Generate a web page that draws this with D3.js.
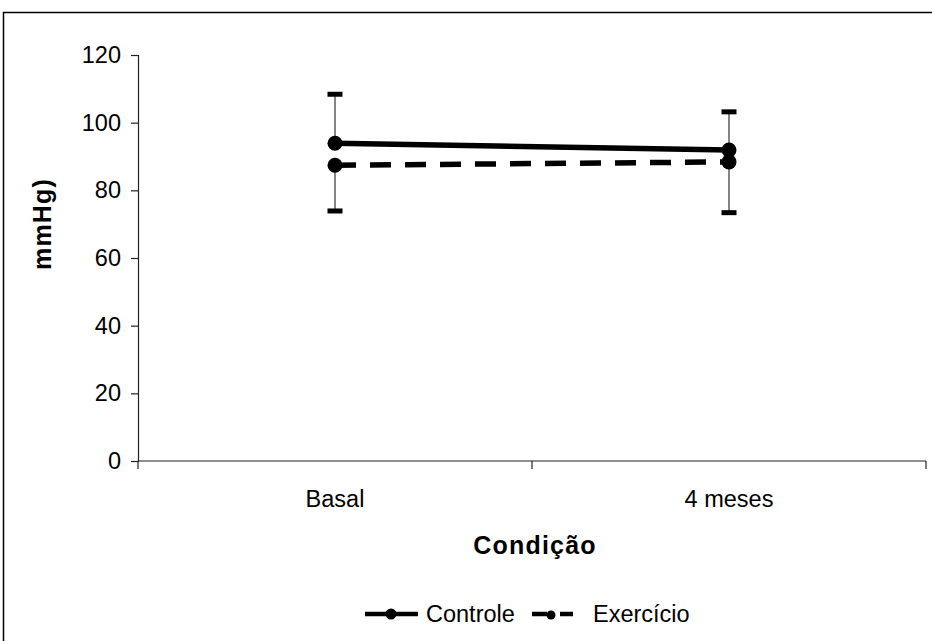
<!DOCTYPE html>
<html>
<head>
<meta charset="utf-8">
<script src="https://cdn.jsdelivr.net/npm/d3@7"></script>
<style>
  html, body { margin: 0; padding: 0; background: #fff; }
  svg { display: block; font-family: "Liberation Sans", Arial, sans-serif; }
</style>
</head>
<body>
<svg id="chart" width="932" height="641"></svg>
<script>
// Pressão arterial (mmHg) por condição
const categories = ["Basal", "4 meses"];
const controle = [93.9, 91.9];
const exercicio = [87.4, 88.4];
// desvios: Controle mostrado para cima, Exercício para baixo
const controleErr = [14.5, 11.3];
const exercicioErr = [13.5, 15.0];
const yTicks = [0, 20, 40, 60, 80, 100, 120];
const seriesNames = ["Controle", "Exercício"];
const xTitle = "Condição";
const yTitle = "mmHg)";

const svg = d3.select("#chart");
const fs = 23.5;

// outer chart frame
svg.append("rect")
  .attr("x", 3.5).attr("y", 12.5)
  .attr("width", 960).attr("height", 660)
  .attr("fill", "none").attr("stroke", "#000").attr("stroke-width", 1.5);

const plot = { left: 138, right: 926, top: 55, bottom: 461 };

const x = d3.scaleBand().domain(categories).range([plot.left, plot.right]);
const y = d3.scaleLinear().domain([0, 120]).range([plot.bottom, plot.top]);
const cx = c => x(c) + x.bandwidth() / 2;

// y axis
const yAxis = svg.append("g")
  .attr("transform", `translate(${plot.left},0)`)
  .call(d3.axisLeft(y).tickValues(yTicks).tickSize(7).tickPadding(10).tickFormat(d3.format("d")));
yAxis.select(".domain").attr("stroke", "#222").attr("stroke-width", 1.2);
yAxis.selectAll(".tick line").attr("stroke", "#222").attr("stroke-width", 1.2);
yAxis.selectAll(".tick text").attr("font-size", fs).attr("fill", "#000")
  .attr("font-family", "Liberation Sans, Arial, sans-serif");

// x axis (ticks between categories, pointing down)
const xAxis = svg.append("g")
  .attr("transform", `translate(0,${plot.bottom})`);
const xBoundaries = [plot.left, ...categories.slice(1).map(c => x(c)), plot.right];
xAxis.append("line")
  .attr("x1", plot.left).attr("x2", plot.right)
  .attr("stroke", "#222").attr("stroke-width", 1.2);
xAxis.selectAll("line.tk").data(xBoundaries).join("line")
  .attr("class", "tk")
  .attr("x1", d => d).attr("x2", d => d)
  .attr("y1", 0).attr("y2", 8)
  .attr("stroke", "#222").attr("stroke-width", 1.2);
xAxis.selectAll("text").data(categories).join("text")
  .attr("x", d => cx(d)).attr("y", 46)
  .attr("text-anchor", "middle").attr("font-size", fs).attr("fill", "#000")
  .text(d => d);

// axis titles
svg.append("text")
  .attr("x", 535).attr("y", 554)
  .attr("text-anchor", "middle").attr("font-size", 25).attr("font-weight", "bold")
  .attr("letter-spacing", 1.2)
  .text(xTitle);
svg.append("text")
  .attr("transform", "translate(51,224) rotate(-90)")
  .attr("text-anchor", "middle").attr("font-size", 25).attr("font-weight", "bold")
  .attr("letter-spacing", 1.2)
  .text(yTitle);

// error bars
const capW = 15;
function errorBars(vals, errs, dir) {
  const g = svg.append("g");
  categories.forEach((c, i) => {
    const y0 = y(vals[i]);
    const y1 = y(vals[i] + dir * errs[i]);
    g.append("line")
      .attr("x1", cx(c)).attr("x2", cx(c))
      .attr("y1", y0).attr("y2", y1)
      .attr("stroke", "#333").attr("stroke-width", 1.2);
    g.append("line")
      .attr("x1", cx(c) - capW / 2).attr("x2", cx(c) + capW / 2)
      .attr("y1", y1).attr("y2", y1)
      .attr("stroke", "#000").attr("stroke-width", 5);
  });
}
errorBars(controle, controleErr, 1);
errorBars(exercicio, exercicioErr, -1);

// series lines and markers
const line = d3.line().x((d, i) => cx(categories[i])).y(d => y(d));
function drawSeries(vals, dash) {
  svg.append("path")
    .datum(vals)
    .attr("d", line)
    .attr("fill", "none").attr("stroke", "#000").attr("stroke-width", 5.5)
    .attr("stroke-dasharray", dash);
  svg.append("g").selectAll("circle").data(vals).join("circle")
    .attr("cx", (d, i) => cx(categories[i])).attr("cy", d => y(d))
    .attr("r", 7.5).attr("fill", "#000");
}
drawSeries(exercicio, "21,14");
drawSeries(controle, null);

// legend
const leg = svg.append("g");
const ly = 614;
leg.append("line").attr("x1", 365).attr("x2", 418).attr("y1", ly).attr("y2", ly)
  .attr("stroke", "#000").attr("stroke-width", 4.5);
leg.append("circle").attr("cx", 391).attr("cy", ly).attr("r", 5.5).attr("fill", "#000");
leg.append("text").attr("x", 426).attr("y", 622).attr("font-size", fs).text(seriesNames[0]);

leg.append("line").attr("x1", 532).attr("x2", 573).attr("y1", ly).attr("y2", ly)
  .attr("stroke", "#000").attr("stroke-width", 4.5).attr("stroke-dasharray", "15,13");
leg.append("circle").attr("cx", 551).attr("cy", ly + 1).attr("r", 4.5).attr("fill", "#000");
leg.append("text").attr("x", 593).attr("y", 622).attr("font-size", fs).text(seriesNames[1]);
</script>
</body>
</html>
